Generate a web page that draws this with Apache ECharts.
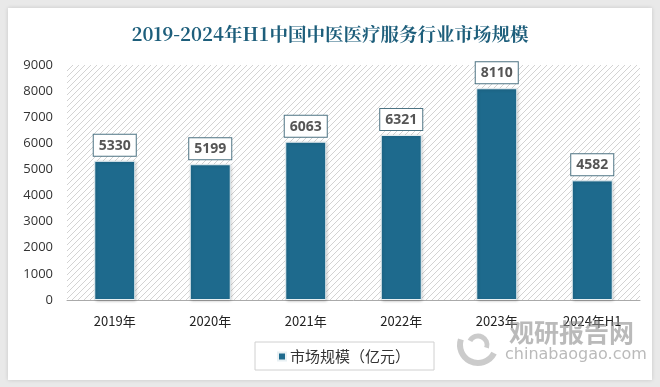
<!DOCTYPE html>
<html><head><meta charset="utf-8">
<script src="https://cdn.jsdelivr.net/npm/echarts@6/dist/echarts.min.js"></script>
<style>
html,body{margin:0;padding:0;background:#e9e9e9;}
#card{position:absolute;left:8px;top:8px;width:644px;height:372px;background:#fff;box-shadow:0 0 4px rgba(0,0,0,0.15);}
#c{position:absolute;left:-8px;top:-8px;width:660px;height:387px;}
</style></head>
<body><div id="card"><div id="c"></div></div>
<script>
var categories = ['2019年','2020年','2021年','2022年','2023年','2024年H1'];
var values = [5330, 5199, 6063, 6321, 8110, 4582];
var seriesName = '市场规模（亿元）';
var titleText = '2019-2024年H1中国中医医疗服务行业市场规模';

var pc = document.createElement('canvas');
pc.width = 6; pc.height = 6;
var ctx = pc.getContext('2d');
ctx.fillStyle = '#ffffff'; ctx.fillRect(0,0,6,6);
ctx.strokeStyle = '#d3d3d3'; ctx.lineWidth = 1;
ctx.beginPath();
ctx.moveTo(0,6); ctx.lineTo(6,0);
ctx.moveTo(-3,3); ctx.lineTo(3,-3);
ctx.moveTo(3,9); ctx.lineTo(9,3);
ctx.stroke();

var chart = echarts.init(document.getElementById('c'));
chart.setOption({
  animation:false,
  title:{text:titleText,left:'center',top:20,textStyle:{fontFamily:'"Noto Serif CJK SC","Noto Sans CJK SC",serif',fontSize:18.5,fontWeight:'bold',color:'#1d5e7b'}},
  grid:{left:67,right:20,top:65,bottom:87,show:true,borderWidth:0,backgroundColor:{image:pc,repeat:'repeat'}},
  legend:{top:342,left:255,itemWidth:8,itemHeight:8,itemGap:0,icon:'rect',padding:[7,24,6,22],borderColor:'#d0d0d0',borderWidth:1,
    textStyle:{fontSize:15,color:'#333',padding:[0,0,0,-1],fontFamily:'"Noto Sans CJK SC",sans-serif'}},
  xAxis:{type:'category',data:categories,axisLine:{lineStyle:{color:'#aaa'}},axisTick:{show:false},
    axisLabel:{margin:15,fontSize:13,color:'#222',fontFamily:'"Noto Sans CJK SC",sans-serif'}},
  yAxis:{type:'value',min:0,max:9000,interval:1000,splitLine:{show:false},axisLine:{show:false},axisTick:{show:false},
    axisLabel:{margin:14,fontSize:13,color:'#333',formatter:function(v){return String(v);},fontFamily:'"Open Sans",sans-serif'}},
  series:[{name:seriesName,type:'bar',data:values,barWidth:41,
    itemStyle:{color:'#1e6a8d',borderColor:'#e8f0f3',borderWidth:1,shadowColor:'rgba(0,0,0,0.2)',shadowBlur:3,shadowOffsetX:1,shadowOffsetY:1},
    label:{show:true,position:'top',distance:5,fontSize:14,fontWeight:'bold',color:'#555',backgroundColor:'#fff',
      borderColor:'#4d7383',borderWidth:1,padding:[4,5,3,5],fontFamily:'"Open Sans",sans-serif'}}],
  graphic:[
    {type:'text',left:509,top:320,z:100,style:{text:'观研报告网',fontSize:25,fontWeight:'bold',fill:'rgba(140,140,140,0.6)',fontFamily:'"Noto Sans CJK SC",sans-serif'}},
    {type:'text',left:505,top:347,z:100,style:{text:'chinabaogao.com',fontSize:16,fill:'rgba(140,140,140,0.6)',fontFamily:'"DejaVu Sans",sans-serif'}},
    {type:'arc',z:100,shape:{cx:478,cy:345,r:18,startAngle:Math.PI*0.15,endAngle:Math.PI*1.1},style:{fill:'none',stroke:'rgba(160,160,160,0.55)',lineWidth:6}},
    {type:'arc',z:100,shape:{cx:478,cy:345,r:9,startAngle:Math.PI*1.15,endAngle:Math.PI*2.1},style:{fill:'none',stroke:'rgba(160,160,160,0.55)',lineWidth:5}}
  ]
});
</script></body></html>
